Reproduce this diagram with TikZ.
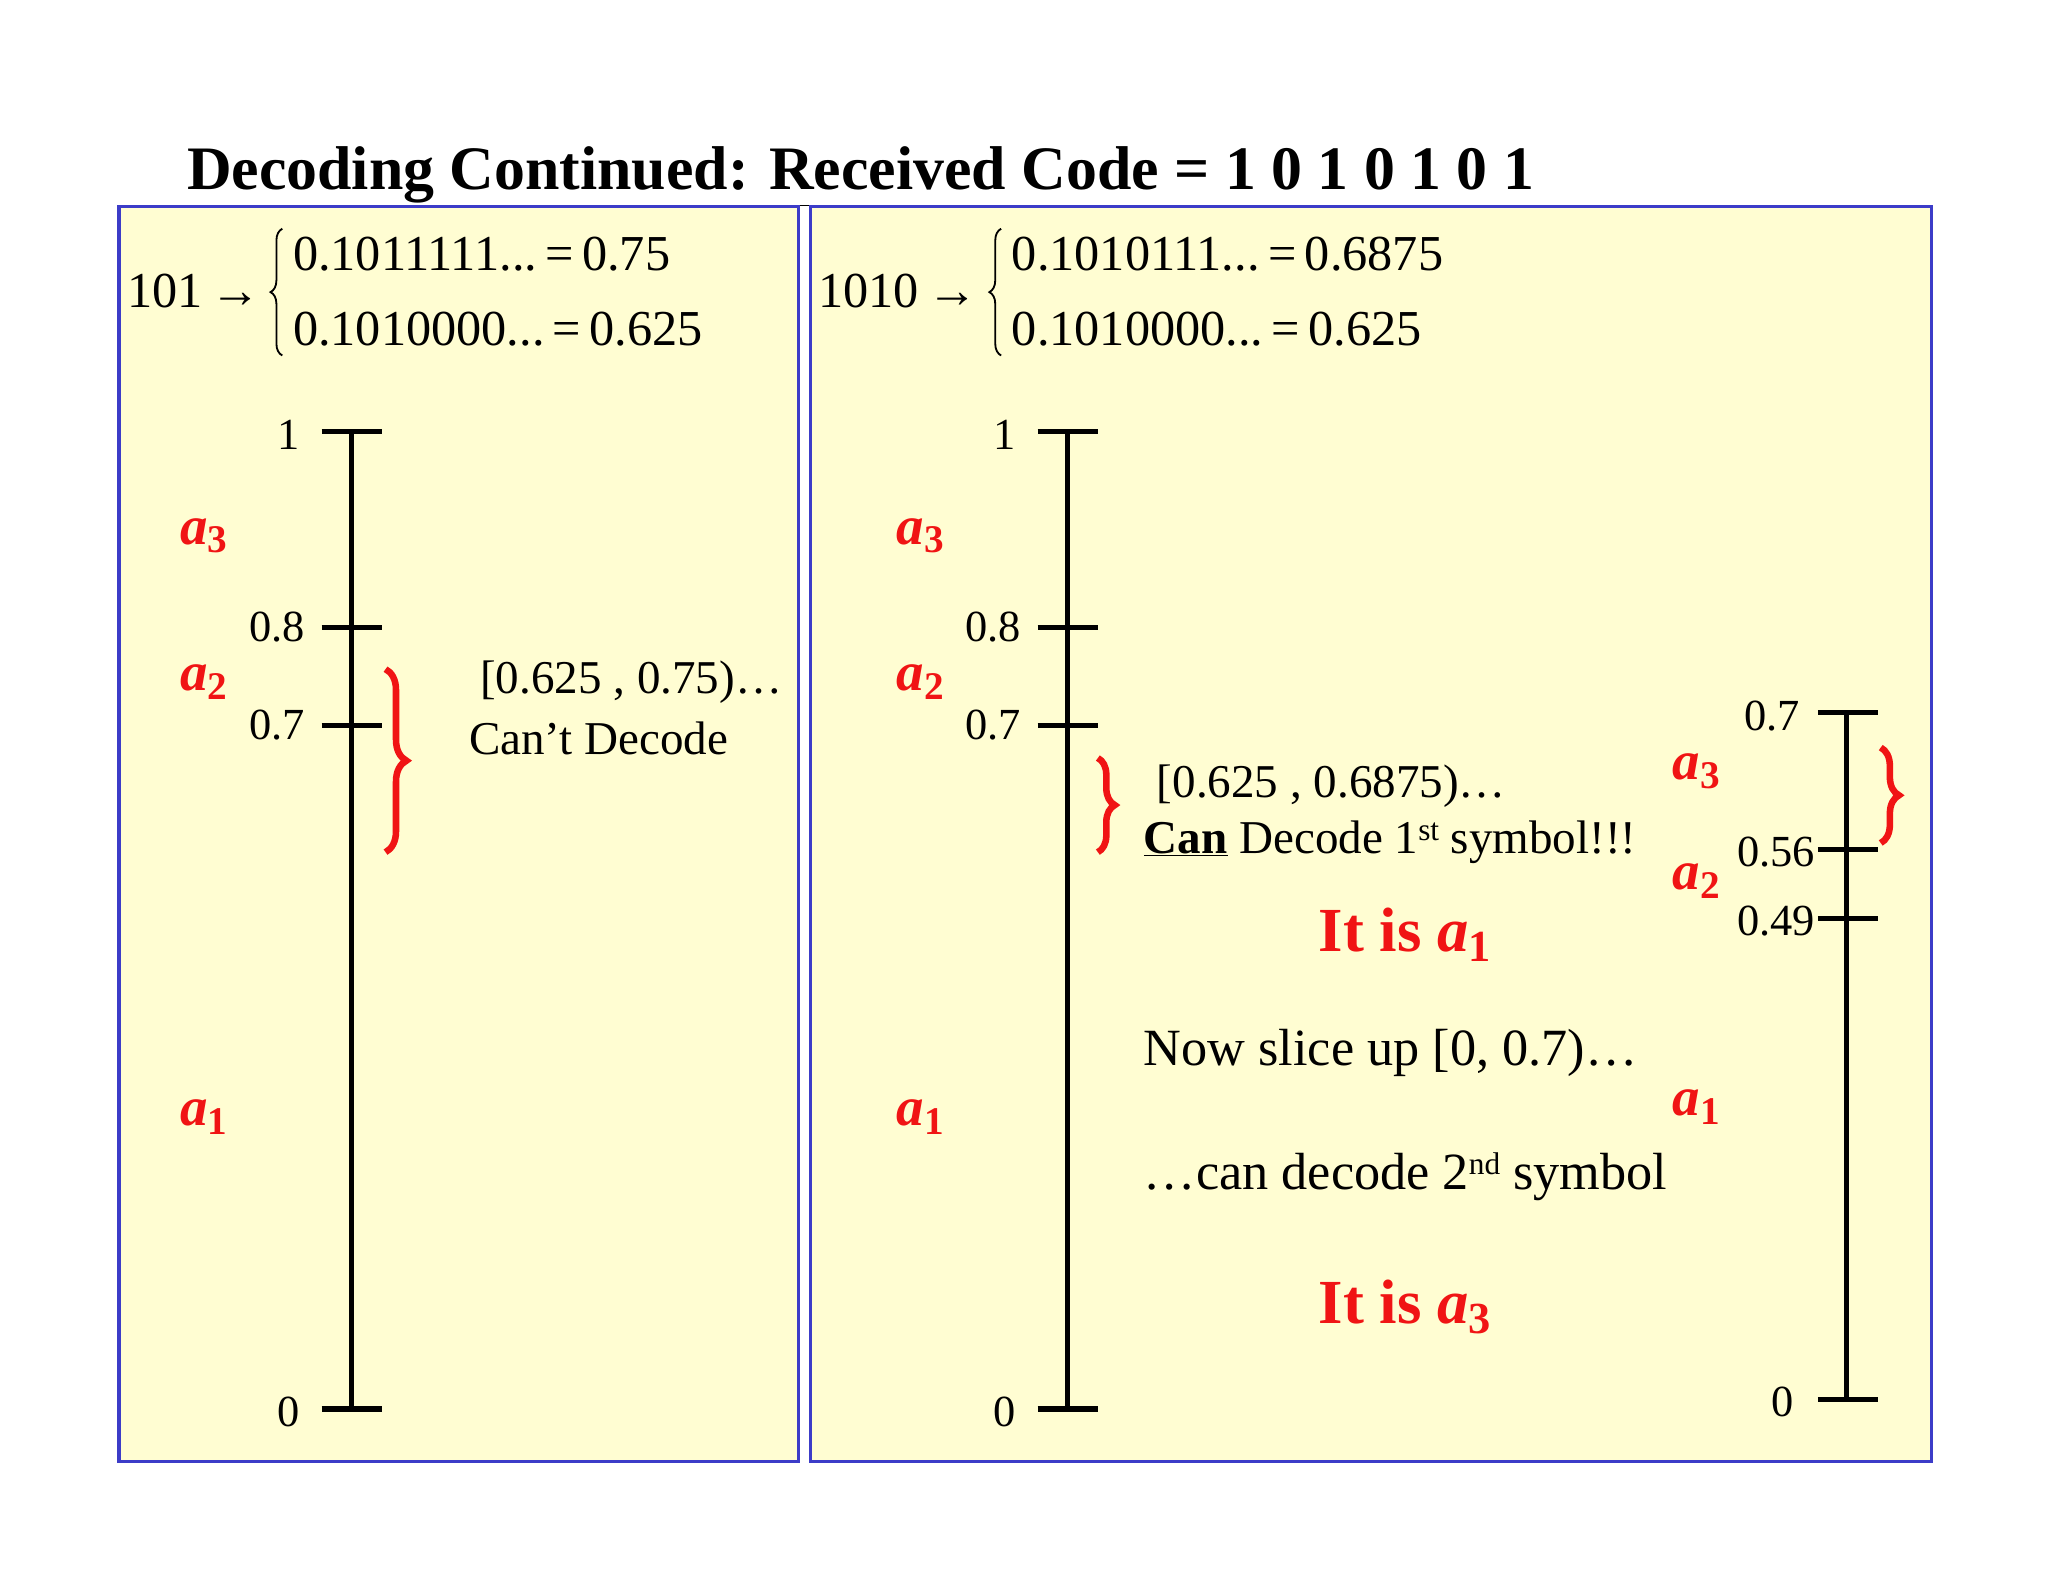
\documentclass[tikz,border=0pt]{standalone}
\usepackage{fontspec}
\setmainfont{Liberation Serif}
\usetikzlibrary{decorations.pathreplacing}
\definecolor{boxfill}{RGB}{255,253,210}
\definecolor{boxline}{RGB}{60,60,200}
\definecolor{myred}{RGB}{240,20,20}
\newcommand{\asym}[1]{\textbf{\textit{a}\raisebox{-0.35ex}{\fontsize{30}{32}\selectfont #1}}}
\newcommand{\supx}[1]{\raisebox{0.6ex}{\fontsize{24}{26}\selectfont #1}}
\begin{document}
\begin{tikzpicture}[x=1pt,y=-1pt,
  panel/.style={draw=boxline,fill=boxfill,line width=2.5pt},
  axisline/.style={line width=4pt},
  lbl/.style={font=\fontsize{34}{36}\selectfont,inner sep=0pt},
  txt/.style={font=\fontsize{38.5}{42}\selectfont,inner sep=0pt,anchor=base west},
  sym/.style={font=\fontsize{42}{46}\selectfont,text=myred,inner sep=0pt},
  big/.style={font=\fontsize{48}{52}\selectfont\bfseries,text=myred,inner sep=0pt},
  rbrace/.style={draw=myred,line width=5pt,decorate,decoration={brace,amplitude=16pt}},
  kbrace/.style={draw=black,line width=1.4pt,decorate,decoration={brace,amplitude=9pt}}]
\useasboundingbox (0,0) rectangle (1567,1210);
\fill[white] (0,0) rectangle (1567,1210);
% title
\node[inner sep=0pt,anchor=base west,font=\fontsize{47.3}{50}\selectfont\bfseries] (title) at (143,145) {\underline{Decoding Continued: Received Code = 1 0 1 0 1 0 1}};
% panels
\draw[panel] (91,158) rectangle (611,1118);
\draw[panel] (620,158) rectangle (1478,1118);
% left top formula
\node[txt] (l101) at (97,235) {101\,→};
\draw[kbrace] (216,272) -- (216,175);
\node[txt] (l1) at (224,207) {0.1011111...\,=\,0.75};
\node[txt] (l2) at (224,264) {0.1010000...\,=\,0.625};
% right top formula
\node[txt] (r1010) at (626,235) {1010\,→};
\draw[kbrace] (766,272) -- (766,175);
\node[txt] (r1) at (774,207) {0.1010111...\,=\,0.6875};
\node[txt] (r2) at (774,264) {0.1010000...\,=\,0.625};
% axes
\foreach \ax/\name in {269/A,817/B}{
  \coordinate (\name t) at (\ax,330);
  \coordinate (\name b) at (\ax,1078);
  \draw[axisline] (\name t) -- (\name b);
  \draw[axisline] (\ax-23,330) -- (\ax+23,330);
  \draw[axisline] (\ax-23,480) -- (\ax+23,480);
  \draw[axisline] (\ax-23,555) -- (\ax+23,555);
  \draw[axisline] (\ax-23,1078) -- (\ax+23,1078);
  \node[lbl] (\name one) at (\ax-48,333) {1};
  \node[lbl] (\name p8) at (\ax-57,480) {0.8};
  \node[lbl] (\name p7) at (\ax-57,555) {0.7};
  \node[lbl] (\name zero) at (\ax-48,1080) {0};
  \node[sym] (\name a3) at (\ax-113,410) {\asym{3}};
  \node[sym] (\name a2) at (\ax-113,522) {\asym{2}};
  \node[sym] (\name a1) at (\ax-113,855) {\asym{1}};
}
% left brace and text
\draw[rbrace] (295,512) -- (295,652);
\node[lbl,font=\fontsize{36}{38}\selectfont] (lr) at (483,522) {[0.625 , 0.75)\dots};
\node[lbl,font=\fontsize{36}{38}\selectfont] (lc) at (458,565) {Can’t Decode};
% right brace and text
\draw[rbrace,decoration={brace,amplitude=13pt}] (840,580) -- (840,652);
\node[txt,font=\fontsize{36}{38}\selectfont] (rr) at (885,610) {[0.625 , 0.6875)\dots};
\node[txt,font=\fontsize{36}{38}\selectfont] (rc) at (875,653) {\textbf{\underline{Can}} Decode 1\supx{st} symbol!!!};
\node[big] (it1) at (1075,715) {It is \textit{a}\raisebox{-0.35ex}{\fontsize{34}{36}\selectfont 1}};
\node[txt,font=\fontsize{40}{44}\selectfont] (now) at (875,815) {Now slice up [0, 0.7)\dots};
\node[txt,font=\fontsize{40}{44}\selectfont] (can2) at (875,910) {\dots can decode 2\supx{nd} symbol};
\node[big] (it3) at (1075,1000) {It is \textit{a}\raisebox{-0.35ex}{\fontsize{34}{36}\selectfont 3}};
% third axis
\coordinate (Ct) at (1413,545);
\coordinate (Cb) at (1413,1071);
\draw[axisline] (Ct) -- (Cb);
\draw[axisline] (1391,545) -- (1437,545);
\draw[axisline] (1391,650) -- (1437,650);
\draw[axisline] (1391,703) -- (1437,703);
\draw[axisline] (1391,1071) -- (1437,1071);
\node[lbl] (c7) at (1356,548) {0.7};
\node[lbl,anchor=east] (c56) at (1389,652) {0.56};
\node[lbl,anchor=east] (c49) at (1389,705) {0.49};
\node[lbl] (c0) at (1364,1073) {0};
\node[sym] (Ca3) at (1298,590) {\asym{3}};
\node[sym] (Ca2) at (1298,674) {\asym{2}};
\node[sym] (Ca1) at (1298,847) {\asym{1}};
\draw[rbrace,decoration={brace,amplitude=14pt}] (1439,572) -- (1439,645);
\end{tikzpicture}
\end{document}
